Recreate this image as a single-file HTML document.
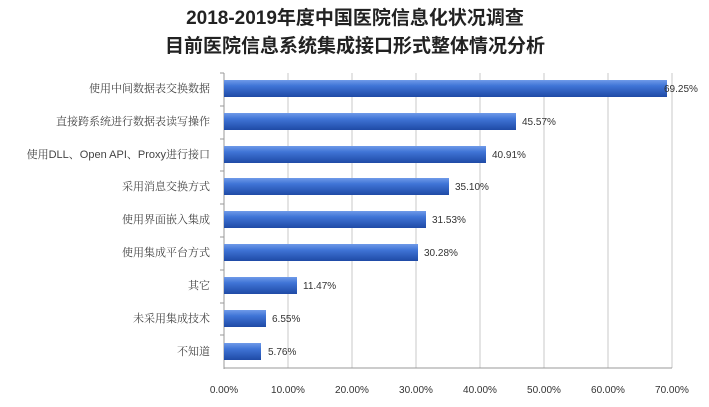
<!DOCTYPE html>
<html><head><meta charset="utf-8"><style>
body{margin:0;background:#fff;width:709px;height:402px;overflow:hidden}
</style></head><body>
<svg width="709" height="402" xmlns="http://www.w3.org/2000/svg" font-family="'Liberation Sans','Noto Sans CJK SC',sans-serif">
<defs>
<linearGradient id="g" x1="0" y1="0" x2="0" y2="1">
<stop offset="0" stop-color="#6f9ae8"/><stop offset="0.35" stop-color="#3f74d6"/><stop offset="1" stop-color="#1f4aa6"/>
</linearGradient>
</defs>
<text x="355" y="24" text-anchor="middle" font-size="19" font-weight="bold" fill="#222">2018-2019年度中国医院信息化状况调查</text>
<text x="355" y="52" text-anchor="middle" font-size="19" font-weight="bold" fill="#222">目前医院信息系统集成接口形式整体情况分析</text>
<g stroke="#c8c8c8" stroke-width="1">
<line x1="288" y1="73" x2="288" y2="368"/><line x1="352" y1="73" x2="352" y2="368"/>
<line x1="416" y1="73" x2="416" y2="368"/><line x1="480" y1="73" x2="480" y2="368"/>
<line x1="544" y1="73" x2="544" y2="368"/><line x1="608" y1="73" x2="608" y2="368"/>
<line x1="672" y1="73" x2="672" y2="368"/>
</g>
<g stroke="#999" stroke-width="1">
<line x1="224" y1="73" x2="224" y2="369"/><line x1="224" y1="368" x2="672" y2="368"/>
<line x1="220" y1="73" x2="224" y2="73"/><line x1="220" y1="106" x2="224" y2="106"/><line x1="220" y1="139" x2="224" y2="139"/><line x1="220" y1="171" x2="224" y2="171"/><line x1="220" y1="204" x2="224" y2="204"/><line x1="220" y1="237" x2="224" y2="237"/><line x1="220" y1="270" x2="224" y2="270"/><line x1="220" y1="303" x2="224" y2="303"/><line x1="220" y1="335" x2="224" y2="335"/>
</g>
<g fill="url(#g)">
<rect x="224" y="80" width="443" height="17"/>
<rect x="224" y="113" width="292" height="17"/>
<rect x="224" y="146" width="262" height="17"/>
<rect x="224" y="178" width="225" height="17"/>
<rect x="224" y="211" width="202" height="17"/>
<rect x="224" y="244" width="194" height="17"/>
<rect x="224" y="277" width="73" height="17"/>
<rect x="224" y="310" width="42" height="17"/>
<rect x="224" y="343" width="37" height="17"/>
</g>
<g font-size="10" fill="#333">
<text x="664" y="92">69.25%</text>
<text x="522" y="125">45.57%</text>
<text x="492" y="158">40.91%</text>
<text x="455" y="190">35.10%</text>
<text x="432" y="223">31.53%</text>
<text x="424" y="256">30.28%</text>
<text x="303" y="289">11.47%</text>
<text x="272" y="322">6.55%</text>
<text x="268" y="355">5.76%</text>
</g>
<g font-size="11" fill="#444" text-anchor="end" font-family="'Liberation Sans','Noto Serif CJK SC',serif">
<text x="210" y="92">使用中间数据表交换数据</text>
<text x="210" y="125">直接跨系统进行数据表读写操作</text>
<text x="210" y="158">使用DLL、Open API、Proxy进行接口</text>
<text x="210" y="190">采用消息交换方式</text>
<text x="210" y="223">使用界面嵌入集成</text>
<text x="210" y="256">使用集成平台方式</text>
<text x="210" y="289">其它</text>
<text x="210" y="322">未采用集成技术</text>
<text x="210" y="355">不知道</text>
</g>
<g font-size="10" fill="#333" text-anchor="middle">
<text x="224" y="393">0.00%</text><text x="288" y="393">10.00%</text><text x="352" y="393">20.00%</text><text x="416" y="393">30.00%</text><text x="480" y="393">40.00%</text><text x="544" y="393">50.00%</text><text x="608" y="393">60.00%</text><text x="672" y="393">70.00%</text>
</g>
</svg>
</body></html>
